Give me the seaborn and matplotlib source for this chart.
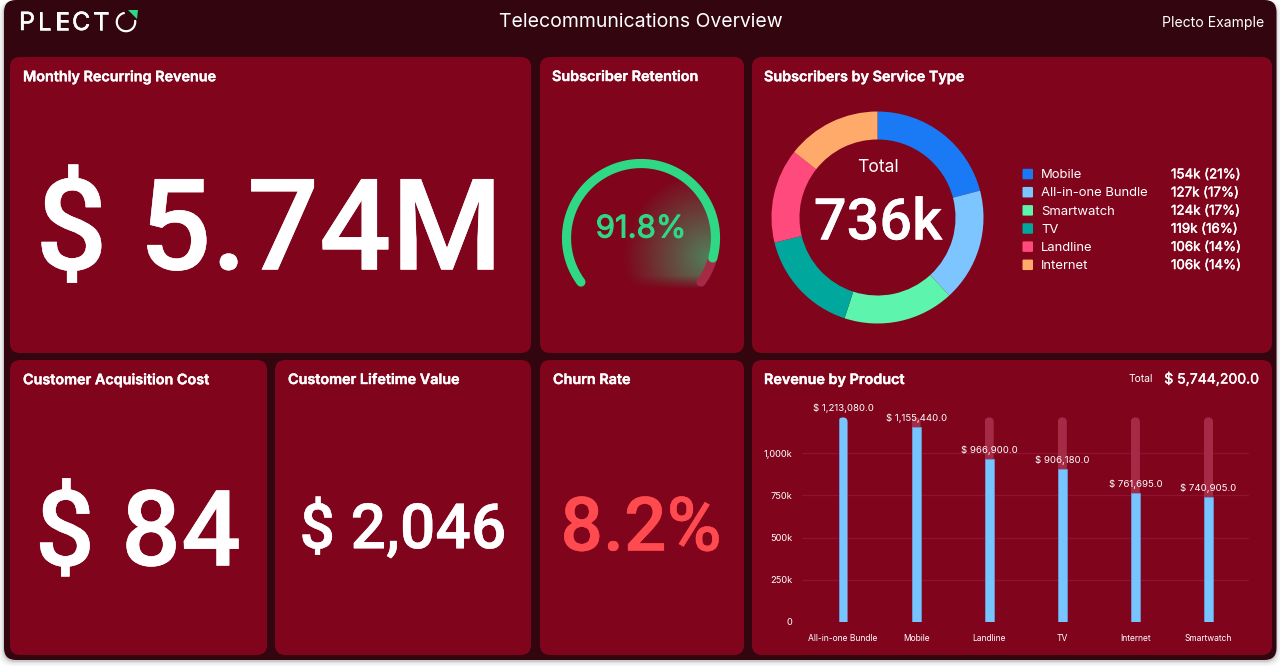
import matplotlib
matplotlib.use("Agg")
import matplotlib.pyplot as plt
import matplotlib.patheffects as pe
import numpy as np
import pandas as pd
import seaborn as sns

from matplotlib.patches import FancyBboxPatch, Polygon, Wedge
from matplotlib.transforms import IdentityTransform

# data
products = ["All-in-one Bundle", "Mobile", "Landline", "TV", "Internet", "Smartwatch"]
revenue = [1213080.0, 1155440.0, 966900.0, 906180.0, 761695.0, 740905.0]
revenue_ticks = [0, 250000, 500000, 750000, 1000000]
revenue_tick_labels = ["0", "250k", "500k", "750k", "1,000k"]

services = ["Mobile", "All-in-one Bundle", "Smartwatch", "TV", "Landline", "Internet"]
subscribers = [154, 127, 124, 119, 106, 106]
subscriber_labels = ["154k (21%)", "127k (17%)", "124k (17%)", "119k (16%)", "106k (14%)", "106k (14%)"]
service_colors = ["#1a7af5", "#7cc5ff", "#5df5ad", "#00a79d", "#ff4a7d", "#ffa96b"]

retention = 91.8

BG = "#33050f"
CARD = "#7f041c"
GREEN = "#2fd885"
W, H = 1280, 667

sns.set_theme(style="white")
plt.rcParams["font.family"] = ["Inter", "DejaVu Sans"]

fig = plt.figure(figsize=(W / 100, H / 100), dpi=100, facecolor="white")


def px_axes(x0, y0, x1, y1, **kw):
    return fig.add_axes([x0 / W, 1 - y1 / H, (x1 - x0) / W, (y1 - y0) / H], **kw)


def heavy(width, color="white"):
    return [pe.withStroke(linewidth=width, foreground=color)]


page = px_axes(0, 0, W, H)
page.set_xlim(0, W)
page.set_ylim(H, 0)
page.axis("off")

# soft shadow under the frame, then the frame
for grow, a in [(5, 0.03), (3.5, 0.04), (2, 0.06), (1, 0.09)]:
    page.add_patch(FancyBboxPatch((4 - grow, 1), W - 8 + 2 * grow, 660 + grow,
                                  boxstyle="round,pad=0,rounding_size=13", fc="black", ec="none", alpha=a))
page.add_patch(FancyBboxPatch((4, 0), W - 7.5, 660, boxstyle="round,pad=0,rounding_size=12", fc=BG, ec="none"))

cards = [(10, 57, 531, 353), (540, 57, 744, 353), (752, 57, 1272, 353),
         (10, 360, 267, 655), (275, 360, 531, 655), (540, 360, 744, 655), (752, 360, 1272, 655)]
for x0, y0, x1, y1 in cards:
    page.add_patch(FancyBboxPatch((x0, y0), x1 - x0, y1 - y0, boxstyle="round,pad=0,rounding_size=10",
                                  fc=CARD, ec="none"))

titles = [("Monthly Recurring Revenue", 23, 77), ("Subscriber Retention", 552, 77),
          ("Subscribers by Service Type", 764, 77), ("Customer Acquisition Cost", 23, 380),
          ("Customer Lifetime Value", 288, 380), ("Churn Rate", 553, 380), ("Revenue by Product", 764, 380)]
for label, x, y in titles:
    page.text(x, y, label, color="white", fontsize=10.35, fontweight="semibold", va="center",
              path_effects=heavy(0.3))

# header
page.text(641, 22, "Telecommunications Overview", color="white", fontsize=14.0, ha="center", va="center")
page.text(1264, 22.5, "Plecto Example", color="white", fontsize=10.1, ha="right", va="center")
for letter, x in zip("PLECT", [19, 37.5, 55, 72, 93]):
    page.text(x, 23.5, letter, color="white", fontsize=18, va="center", ha="left", path_effects=heavy(0.4))
page.add_patch(Wedge((126, 22), 10.3, -12, 262, width=2.2, fc="white", ec="none"))
page.add_patch(Polygon([(128, 10), (138, 10), (137, 19)], fc=GREEN, ec="none"))

# big numbers
big = dict(ha="center", va="center", family=["Roboto", "DejaVu Sans"], fontweight="medium")
page.text(269, 235, "$ 5.74M", color="white", fontsize=91.5, path_effects=heavy(0.3), **big)
page.text(138, 537, "$ 84", color="white", fontsize=76, path_effects=heavy(0.3), **big)
page.text(403, 530, "$ 2,046", color="white", fontsize=45, path_effects=heavy(0.3), **big)
page.text(641, 530, "8.2%", color="#ff4a4f", fontsize=54, path_effects=heavy(0.3, "#ff4a4f"), **big)

# gauge
gx, gy, gr = 641, 238, 74.5
start, end = 216.3, -36.3
value_angle = start + (end - start) * retention / 100

yy, xx = np.mgrid[170:300, 600:730]
dist = np.hypot(xx - 708, yy - 256)
glow = np.zeros(xx.shape + (4,))
glow[..., :3] = matplotlib.colors.to_rgb(GREEN)
alpha = np.clip(1 - dist / 86, 0, 1) * 0.58
alpha[np.hypot(xx - gx, yy - gy) > gr] = 0
alpha *= np.clip((289 - yy) / 14, 0, 1)
glow[..., 3] = alpha
page.imshow(glow, extent=(600, 730, 300, 170), aspect="auto", zorder=1, interpolation="bilinear")
page.set_xlim(0, W)
page.set_ylim(H, 0)

for a0, a1, col in [(value_angle, end, "#a52a46"), (start, value_angle, GREEN)]:
    t = np.radians(np.linspace(a0, a1, 200))
    page.plot(gx + gr * np.cos(t), gy - gr * np.sin(t), color=col, lw=6.6, solid_capstyle="round", zorder=2)
page.text(641, 229.5, f"{retention}%", color=GREEN, fontsize=22.4, ha="center", va="center", zorder=3,
          path_effects=heavy(0.7, GREEN))

# donut
dx, dy, dr = 877.5, 217.5, 106
donut = px_axes(dx - dr, dy - dr, dx + dr, dy + dr)
donut.pie(subscribers, colors=service_colors, startangle=90, counterclock=False, radius=1,
          wedgeprops={"width": 0.264, "linewidth": 0})
donut.set_xlim(-1, 1)
donut.set_ylim(-1, 1)
donut.patch.set_alpha(0)
page.text(878, 167, "Total", color="white", fontsize=12.6, ha="center", va="center")
page.text(878, 224, "736k", color="white", fontsize=41.5, ha="center", va="center",
          family=["Roboto", "DejaVu Sans"], fontweight="medium", path_effects=heavy(0.2))

for i, (name, lab, col) in enumerate(zip(services, subscriber_labels, service_colors)):
    y = 174.3 + i * 18.15
    page.add_patch(FancyBboxPatch((1022.5, y - 5.5), 10.5, 10.5, boxstyle="round,pad=0,rounding_size=1",
                                  fc=col, ec="none"))
    page.text(1041, y + 1, name, color="white", fontsize=9.4, va="center")
    page.text(1171, y + 1, lab, color="white", fontsize=9.6, va="center", path_effects=heavy(0.3))

# revenue bars
page.text(1153, 379, "Total", color="white", fontsize=7.4, ha="right", va="center")
page.text(1259, 379, f"$ {sum(revenue):,.1f}", color="white", fontsize=10.1, ha="right", va="center",
          path_effects=heavy(0.3))

y_top = 405
px_per_unit = 168.4 / 1e6
ax = px_axes(802, y_top, 1249, 621.7)
ax.patch.set_alpha(0)
df = pd.DataFrame({"product": products, "revenue": revenue, "track": max(revenue)})
sns.barplot(data=df, x="product", y="track", color="#a52a46", saturation=1, width=0.123, ax=ax, zorder=2,
            edgecolor="none", linewidth=0)
sns.barplot(data=df, x="product", y="revenue", color="#78c4fe", saturation=1, width=0.123, ax=ax, zorder=3,
            edgecolor="#5f9fe0", linewidth=0.5)
ax.set_xlim(-0.561, 5.554)
ax.set_ylim(0, (621.7 - y_top) / px_per_unit)
ax.set_yticks(revenue_ticks, revenue_tick_labels)
ax.set(xlabel="", ylabel="")
ax.tick_params(axis="x", length=0, labelsize=6.1, labelcolor="white", pad=9)
ax.tick_params(axis="y", length=0, labelsize=6.7, labelcolor="white", pad=7)
ax.grid(axis="y", color="#8f1330", lw=1, zorder=0)
ax.set_axisbelow(True)
sns.despine(ax=ax, left=True, bottom=True, top=True, right=True)

track_bars, value_bars = ax.containers[0], ax.containers[1]
ax.bar_label(value_bars, labels=[f"$ {v:,.1f}" for v in revenue], padding=3, color="white",
             fontsize=6.95, zorder=5)

# round off the tops that reach the track height
for bar in list(track_bars) + [value_bars[0]]:
    box = bar.get_window_extent()
    clip = FancyBboxPatch((box.x0, box.y0 - 20), box.width, box.height + 20,
                          boxstyle=f"round,pad=0,rounding_size={box.width / 2}", transform=IdentityTransform())
    bar.set_clip_path(clip)

fig.savefig("out.png", dpi=100, facecolor="white")
